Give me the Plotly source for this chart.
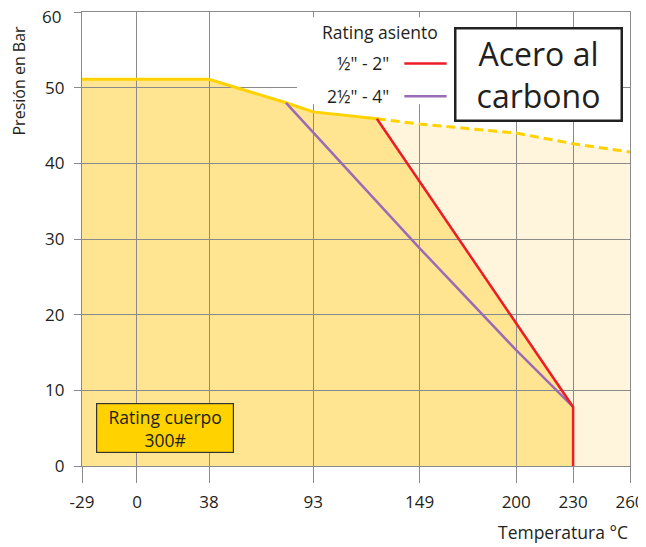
import plotly.graph_objects as go

# Ejes
T_RANGE = [-29, 260]
P_RANGE = [0, 60]
temp_ticks = [-29, 0, 38, 93, 149, 200, 230, 260]
pres_ticks = [0, 10, 20, 30, 40, 50, 60]

# Rating cuerpo 300# (tramo continuo)
body_t = [-29, 38, 78.6, 93, 126.5]
body_p = [51.1, 51.1, 48.0, 46.8, 45.9]
# Continuación discontinua del rating de cuerpo
ext_t = [126.5, 149, 200, 230, 260]
ext_p = [45.9, 45.2, 44.0, 42.6, 41.5]
# Rating asiento 1/2" - 2"
seat_a_t = [126.5, 230, 230]
seat_a_p = [45.9, 7.8, 0]
# Rating asiento 2 1/2" - 4"
seat_b_t = [78.6, 149, 200, 230]
seat_b_p = [48.0, 28.8, 15.3, 7.8]

YELLOW = "#FFD200"
FILL_DARK = "#FFE592"
FILL_LIGHT = "#FEF5DC"
RED = "#EE1C25"
PURPLE = "#9B6BB5"
GRID = "#8a8a8a"
TXT = "#231F20"
FONT = "'Open Sans', Lato, sans-serif"

# la página tiene 8 px de margen en el body: el área de trazado queda en x 82-630, y 12-466
OFF = 8
W, H = 646 - OFF, 547 - OFF
L, R, T, B = 82 - OFF, 16, 12 - OFF, 547 - 466
PW, PH = W - L - R, H - T - B


def px_x(x):
    return (x - 82) / PW


def px_y(y):
    return (466 - y) / PH


fig = go.Figure()

# capa 1: rellenos (debajo de la rejilla)
fig.add_trace(go.Scatter(x=ext_t, y=ext_p, fill="tozeroy", fillcolor=FILL_LIGHT,
                         mode="lines", line=dict(width=0), xaxis="x", yaxis="y",
                         hoverinfo="skip", showlegend=False))
fig.add_trace(go.Scatter(x=body_t + seat_a_t[1:], y=body_p + seat_a_p[1:],
                         fill="tozeroy", fillcolor=FILL_DARK, mode="lines",
                         line=dict(width=0), xaxis="x", yaxis="y",
                         hoverinfo="skip", showlegend=False))

# capa 2: líneas (encima de la rejilla)
fig.add_trace(go.Scatter(x=ext_t, y=ext_p, mode="lines", xaxis="x2", yaxis="y2",
                         line=dict(color=YELLOW, width=3, dash="9px,5px"), showlegend=False))
fig.add_trace(go.Scatter(x=body_t, y=body_p, mode="lines", xaxis="x2", yaxis="y2",
                         line=dict(color=YELLOW, width=3), showlegend=False))
fig.add_trace(go.Scatter(x=seat_b_t, y=seat_b_p, mode="lines", xaxis="x2", yaxis="y2",
                         line=dict(color=PURPLE, width=2.5), name='2½" - 4"', showlegend=False))
fig.add_trace(go.Scatter(x=seat_a_t, y=seat_a_p, mode="lines", xaxis="x2", yaxis="y2",
                         line=dict(color=RED, width=2.5), name='½" - 2"', showlegend=False))

# la etiqueta "60" va aparte para que no quede recortada arriba
pres_text = [str(v) for v in pres_ticks[:-1]] + [""]

hidden = dict(visible=False, showgrid=False, zeroline=False, fixedrange=True, automargin=False)
fig.update_layout(
    width=W, height=H,
    margin=dict(l=L, r=R, t=T, b=B, autoexpand=False),
    paper_bgcolor="white", plot_bgcolor="rgba(0,0,0,0)",
    font=dict(family=FONT, color=TXT, size=17),
    xaxis=dict(hidden, range=T_RANGE, domain=[0, 1], anchor="y"),
    yaxis=dict(hidden, range=P_RANGE, domain=[0, 1], anchor="x"),
    xaxis2=dict(range=T_RANGE, domain=[0, 1], anchor="y2", tickmode="array",
                tickvals=temp_ticks, ticktext=[str(v) for v in temp_ticks],
                showgrid=True, gridcolor=GRID, gridwidth=1.4, zeroline=False,
                showline=True, linecolor=GRID, linewidth=1.4, mirror=True,
                ticks="outside", ticklen=16, tickcolor=GRID, tickwidth=1.4,
                ticklabelstandoff=4, ticklabeloverflow="allow", automargin=False),
    yaxis2=dict(range=P_RANGE, domain=[0, 1], anchor="x2", tickmode="array",
                tickvals=pres_ticks, ticktext=pres_text, showgrid=True, gridcolor=GRID,
                gridwidth=1.4, zeroline=False, showline=True, linecolor=GRID, linewidth=1.4,
                mirror=True, ticks="outside", ticklen=7, tickcolor=GRID, tickwidth=1.4,
                ticklabelstandoff=6, ticklabeloverflow="allow", automargin=False),
)

fig.add_annotation(x=px_x(63), y=px_y(15.5), xref="paper", yref="paper", text=str(pres_ticks[-1]),
                   showarrow=False, xanchor="right", yanchor="middle", height=14,
                   font=dict(size=17))

# fondo blanco de la leyenda (tapa la rejilla)
fig.add_shape(type="rect", xref="x2", yref="y2", x0=84.4, x1=170, y0=47.8, y1=59.3,
              fillcolor="white", line=dict(width=0), layer="above")
# claves de la leyenda
fig.add_shape(type="line", xref="x2", yref="y2", x0=141, x1=163.3, y0=53.2, y1=53.2,
              line=dict(color=RED, width=2.5), layer="above")
fig.add_shape(type="line", xref="x2", yref="y2", x0=141, x1=163.3, y0=48.85, y1=48.85,
              line=dict(color=PURPLE, width=2.5), layer="above")

fig.add_annotation(x=128.2, y=57.4, xref="x2", yref="y2", text="Rating asiento",
                   showarrow=False, font=dict(size=17.5))
fig.add_annotation(x=133.8, y=53.2, xref="x2", yref="y2", text='½" - 2"',
                   showarrow=False, xanchor="right", font=dict(size=17.5))
fig.add_annotation(x=133.8, y=48.85, xref="x2", yref="y2", text='2½" - 4"',
                   showarrow=False, xanchor="right", font=dict(size=17.5))

fig.add_annotation(x=212.0, y=51.8, xref="x2", yref="y2", text="Acero al<br>carbono",
                   showarrow=False, font=dict(size=32), bgcolor="white",
                   bordercolor="#222", borderwidth=2.5, borderpad=0, width=164, height=90)

fig.add_annotation(x=15.0, y=4.96, xref="x2", yref="y2", text="Rating cuerpo<br>300#",
                   showarrow=False, font=dict(size=17.5), bgcolor=YELLOW,
                   bordercolor="#333", borderwidth=1.2, borderpad=0, width=136, height=48)

# títulos de ejes
fig.add_annotation(x=px_x(18.5), y=px_y(81), xref="paper", yref="paper",
                   text="Presión en Bar", showarrow=False, textangle=-90,
                   xanchor="center", yanchor="middle", font=dict(size=16))
fig.add_annotation(x=1, y=px_y(532), xref="paper", yref="paper", text="Temperatura °C",
                   showarrow=False, xanchor="right", yanchor="middle", font=dict(size=17.5))

fig.write_html("out.html")
